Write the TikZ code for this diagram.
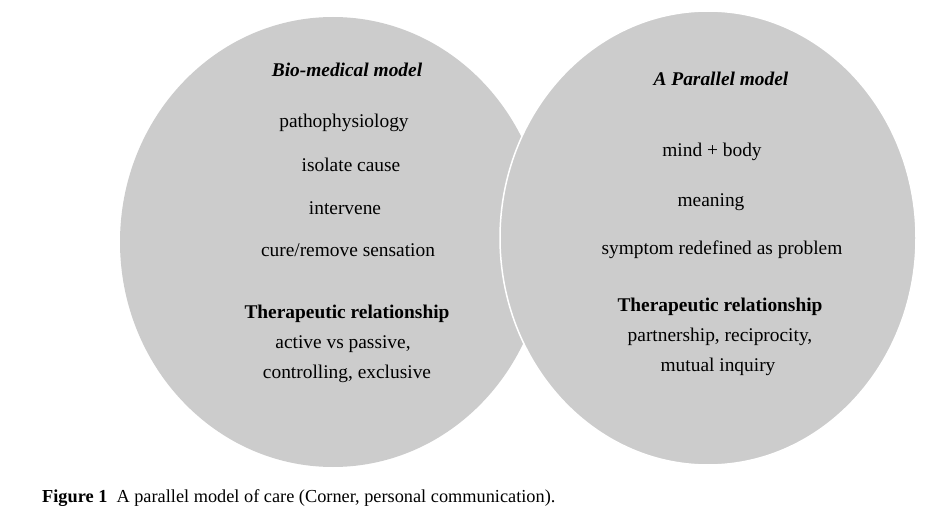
\documentclass[tikz,border=0pt]{standalone}
\usepackage{fontspec}
\setmainfont{Liberation Serif}
\definecolor{dotgray}{RGB}{204,204,204}
\begin{document}
\begin{tikzpicture}[x=1pt,y=-1pt,
  txt/.style={font=\fontsize{19.4}{22}\selectfont, inner sep=0pt, anchor=center},
  head/.style={txt, font=\fontsize{19.4}{22}\selectfont\bfseries\itshape},
  bold/.style={txt, font=\fontsize{19.4}{22}\selectfont\bfseries},
  disc/.style={fill=dotgray}]
\useasboundingbox (0,0) rectangle (935,513);
\fill[white] (0,0) rectangle (935,513);
\fill[disc] (333,242) ellipse [x radius=213, y radius=225];
\fill[disc, draw=white, line width=1.5pt] (708,238) ellipse [x radius=208, y radius=227];
\node[head] (lh) at (347,70) {Bio-medical model};
\node[txt] (l1) at (344,123) {pathophysiology};
\node[txt] (l2) at (351,165) {isolate cause};
\node[txt] (l3) at (345,208) {intervene};
\node[txt] (l4) at (348,250) {cure/remove sensation};
\node[bold] (l5) at (347,314) {Therapeutic relationship};
\node[txt] (l6) at (343,344) {active vs passive,};
\node[txt] (l7) at (347,374) {controlling, exclusive};
\node[head] (rh) at (721,79) {A Parallel model};
\node[txt] (r1) at (712,152) {mind + body};
\node[txt] (r2) at (711,202) {meaning};
\node[txt] (r3) at (722,250) {symptom redefined as problem};
\node[bold] (r4) at (720,307) {Therapeutic relationship};
\node[txt] (r5) at (720,337) {partnership, reciprocity,};
\node[txt] (r6) at (718,367) {mutual inquiry};
\node[anchor=west, inner sep=0pt, font=\fontsize{18.3}{20}\selectfont] (cap) at (42,498) {\textbf{Figure 1}\enspace A parallel model of care (Corner, personal communication).};
\end{tikzpicture}
\end{document}
